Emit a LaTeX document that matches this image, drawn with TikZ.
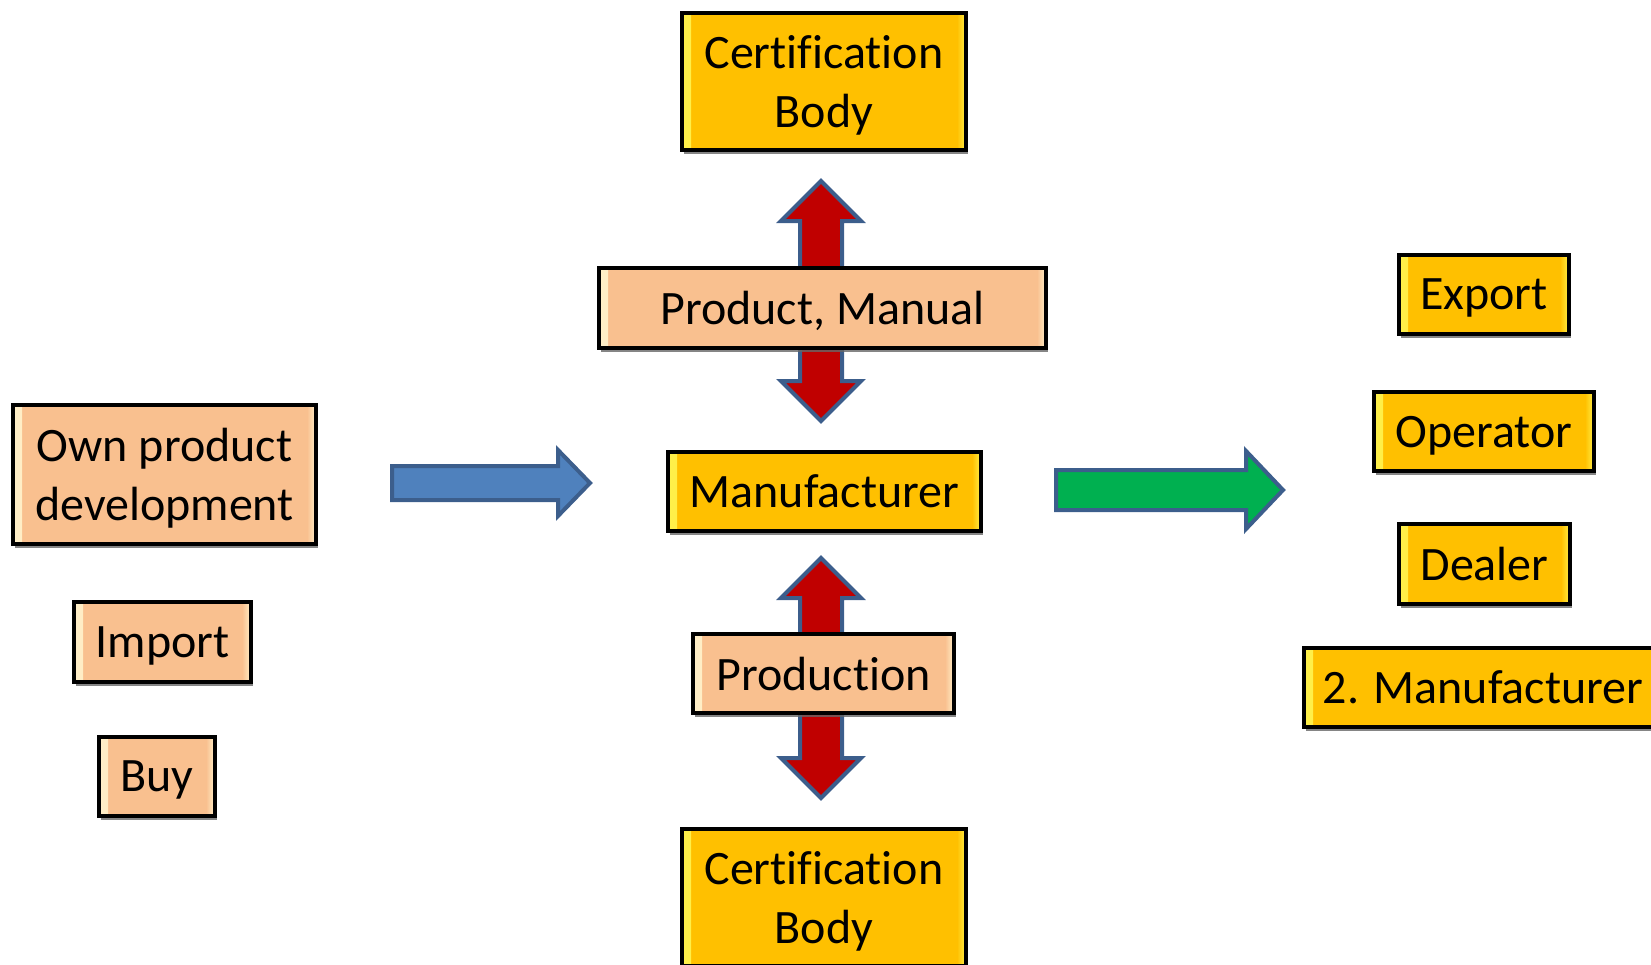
\documentclass[tikz,border=0pt]{standalone}
\usepackage{fontspec}
\setmainfont{Carlito}[Ligatures=NoCommon]
\usetikzlibrary{shadows}

\definecolor{gold}{HTML}{FFC000}
\definecolor{peach}{HTML}{F9C08F}
\definecolor{goldlight}{HTML}{FFF04A}
\definecolor{peachlight}{HTML}{FFEFC8}
\definecolor{darkred}{HTML}{C00000}
\definecolor{steel}{HTML}{3C5E8C}
\definecolor{skyblue}{HTML}{4F81BD}
\definecolor{leafgreen}{HTML}{00B050}

\tikzset{
  bevel/.style 2 args={path picture={
    \shade[left color=#1, right color=#2] (path picture bounding box.south west)
      rectangle ([xshift=9pt]path picture bounding box.north west);
    \shade[left color=#2, right color=#1] ([xshift=-9pt]path picture bounding box.south east)
      rectangle (path picture bounding box.north east);}},
  box/.style={draw=black, line width=4pt, inner sep=0pt, align=center, text depth=0pt,
    font=\fontsize{48}{59}\selectfont,
    drop shadow={shadow xshift=1.5pt, shadow yshift=-4pt, fill=black!60, opacity=.8}},
  goldbox/.style={box, fill=gold, bevel={goldlight}{gold}},
  peachbox/.style={box, fill=peach, bevel={peachlight}{peach}},
  blockarrow/.style={draw=steel, line width=4pt, line join=miter}
}

\begin{document}
\begin{tikzpicture}[x=1pt, y=-1pt]
\useasboundingbox (0,0) rectangle (1651,964);

% block arrows
\draw[blockarrow, fill=darkred] (821,181) -- (861,221) -- (842,221) -- (842,381) -- (861,381) -- (821,421)
  -- (781,381) -- (800,381) -- (800,221) -- (781,221) -- cycle;
\draw[blockarrow, fill=darkred] (821,558) -- (861,598) -- (842,598) -- (842,758) -- (861,758) -- (821,798)
  -- (781,758) -- (800,758) -- (800,598) -- (781,598) -- cycle;
\draw[blockarrow, fill=skyblue] (392,466) -- (558,466) -- (558,450) -- (590,483) -- (558,516) -- (558,500)
  -- (392,500) -- cycle;
\draw[blockarrow, fill=leafgreen] (1056,470) -- (1246,470) -- (1246,451) -- (1283,490) -- (1246,529)
  -- (1246,510) -- (1056,510) -- cycle;

% middle
\node[goldbox, minimum width=284pt, minimum height=137pt] (certtop) at (824,81.5) {Certification\\Body};
\node[peachbox, minimum width=447pt, minimum height=80pt] (prodman) at (822.5,308) {Product, Manual};
\node[goldbox, minimum width=313pt, minimum height=79pt] (manuf) at (824.5,491.5) {Manufacturer};
\node[peachbox, minimum width=261pt, minimum height=79pt] (production) at (823.5,673.5) {Production};
\node[goldbox, minimum width=284pt, minimum height=137pt] (certbot) at (824,897.5) {Certification\\Body};

% left
\node[peachbox, minimum width=303pt, minimum height=139pt] (own) at (164.5,474.5) {Own product\\development};
\node[peachbox, minimum width=177pt, minimum height=80pt] (import) at (162.5,642) {Import};
\node[peachbox, minimum width=116pt, minimum height=79pt] (buy) at (157,776.5) {Buy};

% right
\node[goldbox, minimum width=170pt, minimum height=79pt] (export) at (1484,294.5) {Export};
\node[goldbox, minimum width=220pt, minimum height=79pt] (operator) at (1484,431.5) {Operator};
\node[goldbox, minimum width=171pt, minimum height=80pt] (dealer) at (1484.5,564) {Dealer};
\node[goldbox, minimum width=358pt, minimum height=79pt] (manuf2) at (1483,687.5) {2. Manufacturer};
\end{tikzpicture}
\end{document}
